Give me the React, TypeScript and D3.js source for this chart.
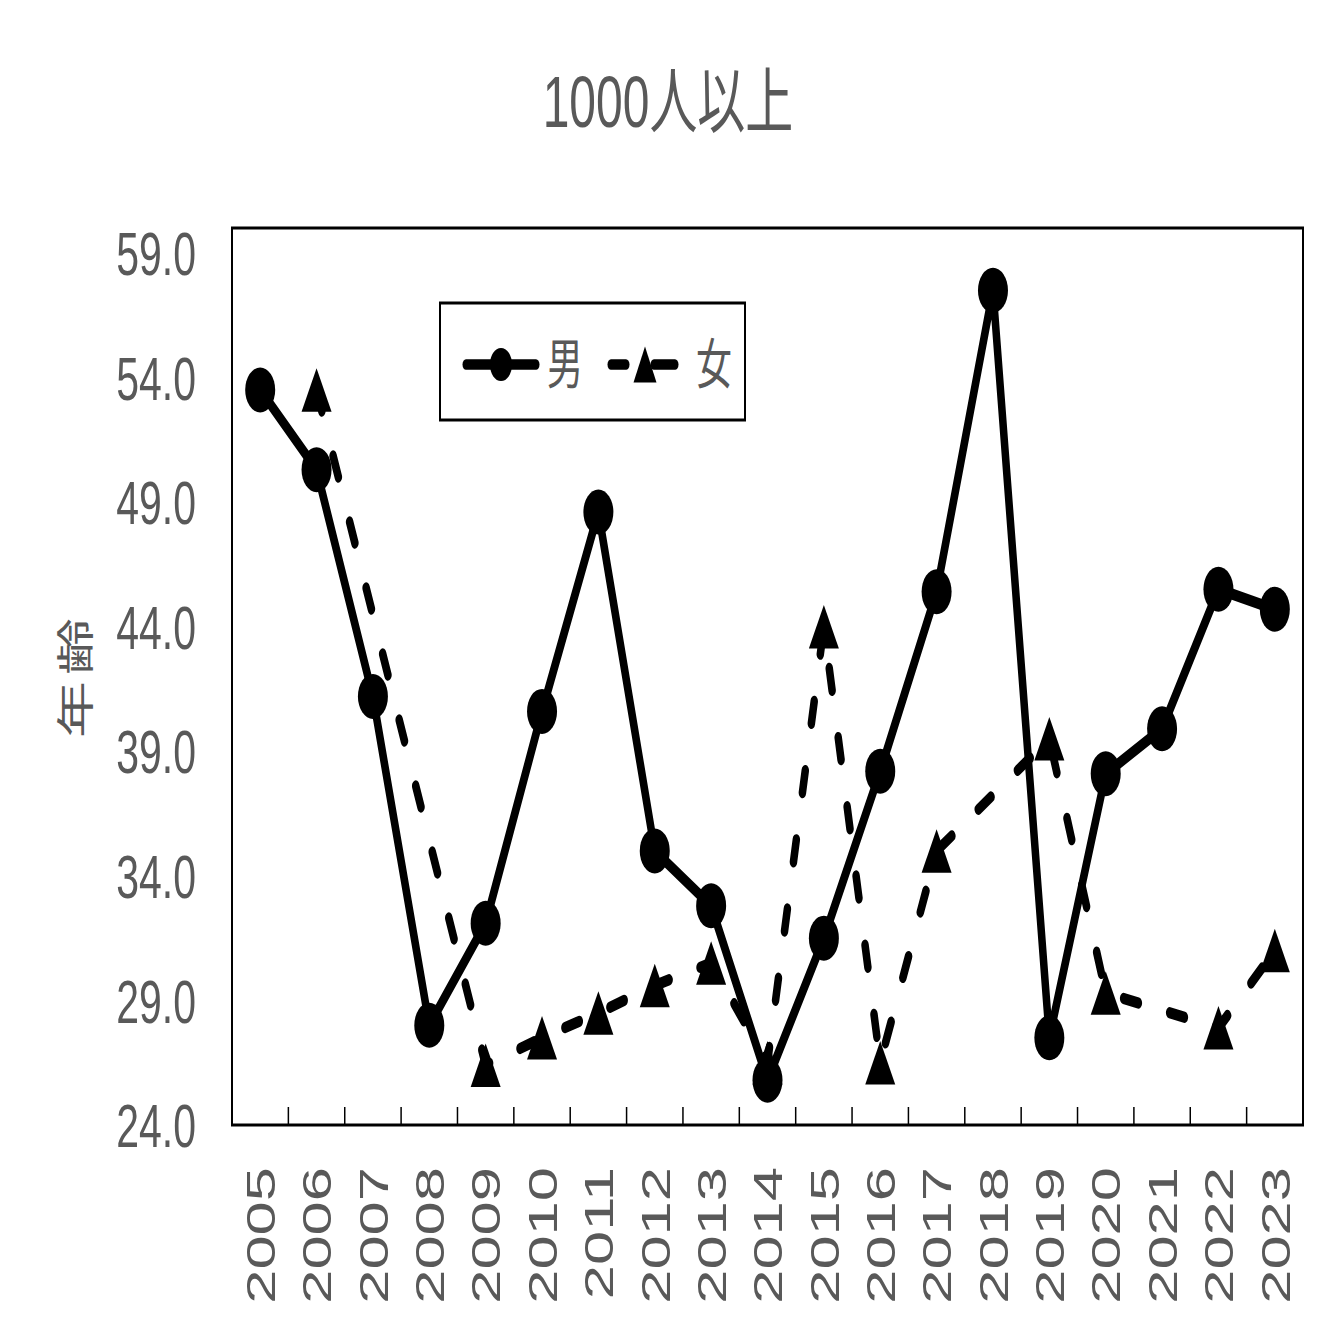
import React from "react";
import * as d3 from "d3";

const years = ["2005","2006","2007","2008","2009","2010","2011","2012","2013","2014","2015","2016","2017","2018","2019","2020","2021","2022","2023"];
const maleValues: (number | null)[] = [53.5,50.3,41.2,28.0,32.1,40.6,48.6,35.0,32.8,25.8,31.5,38.2,45.4,57.5,27.5,38.1,39.9,45.5,44.7];
const femaleValues: (number | null)[] = [null,53.5,null,null,26.4,27.5,28.5,29.6,30.5,26.5,44.0,26.5,35.0,null,39.5,29.3,null,27.9,31.0];
const yTicks = [24,29,34,39,44,49,54,59];
const title = "1000人以上";
const yTitle = "年齢";
const seriesNames = ["男", "女"];

const W = 1336;
const STRETCH = 1.5;
const H = W / STRETCH;
const grey = "#595959";
const latin = "'Liberation Sans', Arial, 'Noto Sans CJK JP', sans-serif";

export default function App() {
  const left = 232, right = 1303, top = 152, bottom = 750;
  const x = d3.scaleBand<string>().domain(years).range([left, right]).padding(0);
  const cx = (yr: string) => (x(yr) as number) + x.bandwidth() / 2;
  const y = d3.scaleLinear().domain([24, 60]).range([bottom, top]);

  const line = d3.line<{ yr: string; v: number }>().x(d => cx(d.yr)).y(d => y(d.v));
  const male = years.map((yr, i) => ({ yr, v: maleValues[i] })).filter(d => d.v != null) as { yr: string; v: number }[];
  const female = years.map((yr, i) => ({ yr, v: femaleValues[i] })).filter(d => d.v != null) as { yr: string; v: number }[];

  const tri = (px: number, py: number, w: number, h: number) =>
    `M${px},${py - h / 2}L${px + w / 2},${py + h / 2}L${px - w / 2},${py + h / 2}Z`;

  return (
    <svg
      width={W}
      height={W}
      viewBox={`0 0 ${W} ${H}`}
      preserveAspectRatio="none"
      style={{ position: "absolute", left: 0, top: 0, background: "#fff" }}
    >
      <rect x={0} y={0} width={W} height={H} fill="#fff" />
      <text x={668} y={85} textAnchor="middle" fontSize={48} fill={grey} fontFamily={latin}>
        {title}
      </text>

      {/* plot frame */}
      <rect x={left} y={top} width={right - left} height={bottom - top} fill="none" stroke="#000" strokeWidth={2} />

      {/* bottom ticks */}
      {years.map((yr, i) =>
        i > 0 ? (
          <line key={yr} x1={x(yr)} x2={x(yr)} y1={bottom} y2={bottom - 12} stroke="#000" strokeWidth={1.5} />
        ) : null
      )}

      {/* y tick labels */}
      {yTicks.map(t => (
        <text key={t} x={196} y={y(t)} dy="0.36em" textAnchor="end" fontSize={41} fill={grey} fontFamily={latin}>
          {t.toFixed(1)}
        </text>
      ))}

      {/* x tick labels */}
      {years.map(yr => (
        <text
          key={yr}
          transform={`translate(${cx(yr)},778) rotate(-90)`}
          dy="0.36em"
          textAnchor="end"
          fontSize={41}
          fill={grey}
          fontFamily={latin}
        >
          {yr}
        </text>
      ))}

      {/* y axis title */}
      <text
        transform={`translate(75,450) rotate(-90)`}
        dy="0.36em"
        textAnchor="middle"
        fontSize={38}
        letterSpacing={4}
        fill={grey}
        fontFamily={latin}
      >
        {yTitle}
      </text>

      {/* female series */}
      <path d={line(female) || ""} fill="none" stroke="#000" strokeWidth={7.5} strokeDasharray="15 32" strokeLinecap="round" strokeLinejoin="round" />
      {female.map(d => (
        <path key={d.yr} d={tri(cx(d.yr), y(d.v), 30, 29)} fill="#000" />
      ))}

      {/* male series */}
      <path d={line(male) || ""} fill="none" stroke="#000" strokeWidth={7.5} strokeLinejoin="round" />
      {male.map(d => (
        <circle key={d.yr} cx={cx(d.yr)} cy={y(d.v)} r={15} fill="#000" />
      ))}

      {/* legend */}
      <rect x={440} y={202} width={305} height={78} fill="#fff" stroke="#000" strokeWidth={2} />
      <line x1={466} x2={536} y1={243} y2={243} stroke="#000" strokeWidth={7} strokeLinecap="round" />
      <circle cx={501} cy={243} r={11} fill="#000" />
      <text x={547} y={256} fontSize={36} fill={grey} fontFamily={latin}>{seriesNames[0]}</text>
      <line x1={611} x2={626} y1={243} y2={243} stroke="#000" strokeWidth={7} strokeLinecap="round" />
      <line x1={654} x2={675} y1={243} y2={243} stroke="#000" strokeWidth={7} strokeLinecap="round" />
      <path d={tri(645, 243, 23, 24)} fill="#000" />
      <text x={696} y={256} fontSize={36} fill={grey} fontFamily={latin}>{seriesNames[1]}</text>
    </svg>
  );
}
